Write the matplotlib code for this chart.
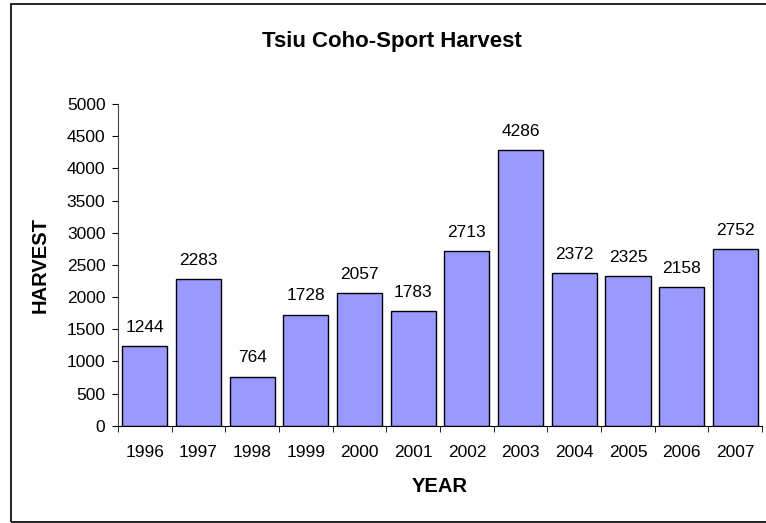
import matplotlib
matplotlib.use("Agg")
import matplotlib.pyplot as plt
from matplotlib.patches import Rectangle

plt.rcParams["font.family"] = ["Liberation Sans", "DejaVu Sans"]

years = ["1996", "1997", "1998", "1999", "2000", "2001",
         "2002", "2003", "2004", "2005", "2006", "2007"]
harvest = [1244, 2283, 764, 1728, 2057, 1783, 2713, 4286, 2372, 2325, 2158, 2752]
y_ticks = list(range(0, 5001, 500))

fig = plt.figure(figsize=(7.66, 5.23), dpi=100)
ax = fig.add_axes([0.154, 0.186, 0.841, 0.615])

x = list(range(len(years)))
bars = ax.bar(x, harvest, width=0.84, color="#9999FF", edgecolor="black", linewidth=1.0)
ax.bar_label(bars, labels=[str(v) for v in harvest], padding=8, fontsize=12.5)

ax.set_xlim(-0.5, len(years) - 0.5)
ax.set_ylim(0, 5000)
ax.set_yticks(y_ticks)
ax.set_xticks(x)
ax.set_xticklabels(years)
ax.set_xticks([i - 0.5 for i in range(len(years) + 1)], minor=True)
ax.tick_params(axis="x", which="major", length=0, pad=14, labelsize=12.5)
ax.tick_params(axis="x", which="minor", length=4, direction="out", color="black")
ax.tick_params(axis="y", length=4, direction="out", pad=5, labelsize=12.5)

for side in ["top", "right"]:
    ax.spines[side].set_visible(False)
ax.spines["left"].set_color("#444444")
ax.spines["bottom"].set_color("black")

fig.text(0.512, 0.921, "Tsiu Coho-Sport Harvest", ha="center", va="center",
         fontsize=16, fontweight="bold")
ax.set_xlabel("YEAR", fontsize=14.5, fontweight="bold", labelpad=12)
fig.text(40 / 766, 0.494, "HARVEST", rotation=90, ha="center", va="center",
         fontsize=14.5, fontweight="bold")

# chart-area border
fig.patches.append(Rectangle((10.5 / 766, 1.5 / 523), 1.1, 518 / 523,
                             transform=fig.transFigure, fill=False,
                             edgecolor="black", linewidth=1.2))

fig.savefig("out.png", dpi=100)
